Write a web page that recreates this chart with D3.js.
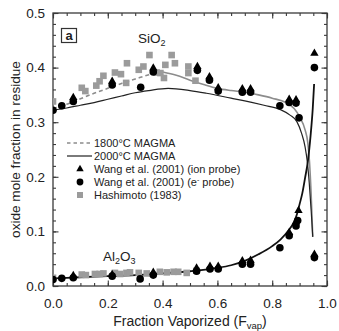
<!DOCTYPE html>
<html><head><meta charset="utf-8">
<script src="https://cdnjs.cloudflare.com/ajax/libs/d3/7.8.5/d3.min.js"></script>
<style>
html,body{margin:0;padding:0;background:#fff;}
svg{display:block;font-family:"Liberation Sans",Arial,sans-serif;}
</style></head>
<body>
<svg id="c" width="339" height="331"></svg>
<script>
// ---- model curves ----
const sio2_1800_f = [0,0.05,0.1,0.15,0.2,0.25,0.3,0.35,0.4,0.45,0.5,0.55,0.6,0.65,0.7,0.75,0.8,0.85,0.88,0.9,0.92,0.93,0.936,0.942,0.948];
const sio2_1800_v = [0.325,0.333,0.343,0.353,0.362,0.371,0.379,0.387,0.392,0.386,0.377,0.369,0.362,0.358,0.355,0.350,0.344,0.336,0.325,0.310,0.286,0.262,0.228,0.17,0.09];
const sio2_2000_f = [0,0.05,0.1,0.15,0.2,0.25,0.3,0.35,0.42,0.5,0.56,0.65,0.7,0.77,0.83,0.865,0.89,0.907,0.92,0.928,0.935,0.942,0.948];
const sio2_2000_v = [0.322,0.326,0.331,0.336,0.342,0.348,0.354,0.358,0.362,0.358,0.353,0.344,0.339,0.331,0.323,0.313,0.301,0.280,0.255,0.228,0.19,0.14,0.09];
const al2o3_f = [0,0.1,0.2,0.3,0.4,0.5,0.6,0.65,0.7,0.75,0.8,0.83,0.86,0.88,0.89,0.9,0.91,0.92,0.93,0.94,0.948,0.953];
const al2o3_v = [0.014,0.016,0.018,0.020,0.023,0.027,0.033,0.038,0.046,0.058,0.073,0.085,0.102,0.118,0.131,0.150,0.170,0.198,0.228,0.275,0.325,0.37];

// ---- measurements ----
// Wang et al. (2001) e- probe (circles)
const wangE_f_sio2 = [0,0.032,0.074,0.216,0.320,0.366,0.527,0.571,0.603,0.691,0.721,0.828,0.862,0.887,0.898,0.954];
const wangE_v_sio2 = [0.322,0.330,0.338,0.368,0.364,0.392,0.395,0.377,0.357,0.355,0.355,0.330,0.336,0.335,0.308,0.400];
const wangE_f_al = [0,0.032,0.074,0.216,0.318,0.366,0.524,0.573,0.603,0.691,0.721,0.828,0.862,0.887,0.893,0.954];
const wangE_v_al = [0.012,0.014,0.015,0.018,0.013,0.020,0.027,0.031,0.031,0.040,0.040,0.070,0.092,0.110,0.120,0.052];
// Wang et al. (2001) ion probe (triangles)
const wangI_f_sio2 = [0.074,0.216,0.366,0.527,0.571,0.603,0.691,0.721,0.862,0.887,0.954];
const wangI_v_sio2 = [0.345,0.375,0.399,0.402,0.383,0.363,0.361,0.361,0.342,0.341,0.426];
const wangI_f_al = [0.074,0.216,0.366,0.524,0.573,0.603,0.691,0.721,0.862,0.887,0.896,0.954];
const wangI_v_al = [0.019,0.021,0.025,0.033,0.036,0.036,0.046,0.047,0.098,0.117,0.138,0.058];
// Hashimoto (1983) (squares)
const hash_f_sio2 = [0,0.105,0.118,0.158,0.170,0.184,0.226,0.248,0.267,0.270,0.313,0.330,0.352,0.378,0.392,0.405,0.410,0.433,0.445,0.494,0.494,0.520];
const hash_v_sio2 = [0.338,0.363,0.357,0.367,0.375,0.385,0.391,0.388,0.372,0.408,0.396,0.402,0.423,0.391,0.390,0.381,0.405,0.423,0.408,0.402,0.390,0.376];
const hash_f_al = [0,0.105,0.12,0.153,0.17,0.184,0.226,0.245,0.268,0.281,0.313,0.342,0.39,0.415,0.44,0.457,0.488,0.524];
const hash_v_al = [0.015,0.021,0.020,0.022,0.022,0.023,0.024,0.022,0.024,0.025,0.024,0.023,0.026,0.025,0.026,0.026,0.024,0.028];

// ---- axes ----
const xTicks = [0,0.2,0.4,0.6,0.8,1.0];
const yTicks = [0,0.1,0.2,0.3,0.4,0.5];
const xMinor = d3.range(0,1.0001,0.05);
const yMinor = d3.range(0,0.5001,0.02);
const xTitle = "Fraction Vaporized (F";
const xTitleSub = "vap";
const yTitle = "oxide mole fraction in residue";
const legendLabels = ["1800°C MAGMA","2000°C MAGMA","Wang et al. (2001) (ion probe)","Wang et al. (2001) (e","Hashimoto (1983)"];

const svg = d3.select("#c");
const L=53,R=327,T=13,B=286;
const x = d3.scaleLinear().domain([0,1]).range([L,R]);
const y = d3.scaleLinear().domain([0,0.5]).range([B,T]);
const axisColor="#3a3a3a", textColor="#222";

function styleAxis(g){
  g.select(".domain").remove();
  g.selectAll("line").attr("stroke",axisColor).attr("stroke-width",1.1);
  g.selectAll("text").attr("fill",textColor).attr("font-size",13.5).attr("font-family","Liberation Sans, Arial, sans-serif");
}
// minor ticks
svg.append("g").attr("transform",`translate(0,${B})`).call(d3.axisBottom(x).tickValues(xMinor).tickSize(-3).tickFormat("")).call(styleAxis);
svg.append("g").attr("transform",`translate(0,${T})`).call(d3.axisTop(x).tickValues(xMinor).tickSize(-3).tickFormat("")).call(styleAxis);
svg.append("g").attr("transform",`translate(${L},0)`).call(d3.axisLeft(y).tickValues(yMinor).tickSize(-3).tickFormat("")).call(styleAxis);
svg.append("g").attr("transform",`translate(${R},0)`).call(d3.axisRight(y).tickValues(yMinor).tickSize(-3).tickFormat("")).call(styleAxis);
// major ticks
svg.append("g").attr("transform",`translate(0,${B})`).call(d3.axisBottom(x).tickValues(xTicks).tickSize(-5.5).tickPadding(12).tickFormat(d3.format(".1f"))).call(styleAxis);
svg.append("g").attr("transform",`translate(0,${T})`).call(d3.axisTop(x).tickValues(xTicks).tickSize(-5.5).tickFormat("")).call(styleAxis);
svg.append("g").attr("transform",`translate(${L},0)`).call(d3.axisLeft(y).tickValues(yTicks).tickSize(-5.5).tickPadding(8).tickFormat(d3.format(".1f"))).call(styleAxis);
svg.append("g").attr("transform",`translate(${R},0)`).call(d3.axisRight(y).tickValues(yTicks).tickSize(-5.5).tickFormat("")).call(styleAxis);
// frame
svg.append("rect").attr("x",L).attr("y",T).attr("width",R-L).attr("height",B-T)
  .attr("fill","none").attr("stroke",axisColor).attr("stroke-width",1.3);

// titles
const xt = svg.append("text").attr("x",(L+R)/2).attr("y",326).attr("text-anchor","middle")
  .attr("font-size",14).attr("fill",textColor);
xt.append("tspan").text(xTitle);
xt.append("tspan").attr("font-size",9.5).attr("dy",3).text(xTitleSub);
xt.append("tspan").attr("dy",-3).text(")");
svg.append("text").attr("transform",`translate(20,${(T+B)/2}) rotate(-90)`).attr("text-anchor","middle")
  .attr("font-size",13.6).attr("fill",textColor).text(yTitle);

// clip
svg.append("clipPath").attr("id","clip").append("rect").attr("x",L).attr("y",T).attr("width",R-L).attr("height",B-T);
const plot = svg.append("g").attr("clip-path","url(#clip)");

const line = d3.line().x(d=>x(d[0])).y(d=>y(d[1])).curve(d3.curveMonotoneX);
const zip = (a,b)=>a.map((v,i)=>[v,b[i]]);

const s1800 = zip(sio2_1800_f,sio2_1800_v);
const cutIdx = sio2_1800_f.indexOf(0.4);
plot.append("path").attr("d",line(s1800.slice(0,cutIdx+1))).attr("fill","none").attr("stroke","#8c8c8c").attr("stroke-width",1.6).attr("stroke-dasharray","4,3");
plot.append("path").attr("d",line(s1800.slice(cutIdx))).attr("fill","none").attr("stroke","#8c8c8c").attr("stroke-width",1.6);
plot.append("path").attr("d",line(zip(sio2_2000_f,sio2_2000_v))).attr("fill","none").attr("stroke","#222").attr("stroke-width",1.2);
plot.append("path").attr("d",line(zip(al2o3_f,al2o3_v))).attr("fill","none").attr("stroke","#111").attr("stroke-width",1.8);

// markers
const sqColor="#9b9b9b";
function squares(f,v){
  plot.selectAll(null).data(zip(f,v)).enter().append("rect")
    .attr("x",d=>x(d[0])-3.3).attr("y",d=>y(d[1])-3.3).attr("width",6.6).attr("height",6.6).attr("fill",sqColor);
}
function circles(f,v){
  plot.selectAll(null).data(zip(f,v)).enter().append("circle")
    .attr("cx",d=>x(d[0])).attr("cy",d=>y(d[1])).attr("r",3.8).attr("fill","#000");
}
const tri = d3.symbol().type(d3.symbolTriangle).size(30);
function triangles(f,v){
  plot.selectAll(null).data(zip(f,v)).enter().append("path")
    .attr("d",tri).attr("transform",d=>`translate(${x(d[0])},${y(d[1])})`).attr("fill","#000");
}
squares(hash_f_sio2,hash_v_sio2);
squares(hash_f_al,hash_v_al);
circles(wangE_f_sio2,wangE_v_sio2);
circles(wangE_f_al,wangE_v_al);
triangles(wangI_f_sio2,wangI_v_sio2);
triangles(wangI_f_al,wangI_v_al);

// panel label
svg.append("rect").attr("x",61.5).attr("y",28.5).attr("width",15).attr("height",14).attr("fill","#fff").attr("stroke","#333").attr("stroke-width",1.2);
svg.append("text").attr("x",69).attr("y",39.5).attr("text-anchor","middle").attr("font-size",13).attr("font-weight","bold").attr("fill","#222").text("a");

// species labels
const si = svg.append("text").attr("x",138).attr("y",42.5).attr("font-size",13.5).attr("fill",textColor);
si.append("tspan").text("SiO");
si.append("tspan").attr("font-size",9).attr("dy",3).text("2");
const al = svg.append("text").attr("x",103).attr("y",260.5).attr("font-size",13.5).attr("fill",textColor);
al.append("tspan").text("Al");
al.append("tspan").attr("font-size",9).attr("dy",3).text("2");
al.append("tspan").attr("dy",-3).text("O");
al.append("tspan").attr("font-size",9).attr("dy",3).text("3");

// legend
const rows=[143,156,169,182,195];
const lg = svg.append("g");
lg.append("line").attr("x1",67).attr("x2",90).attr("y1",rows[0]).attr("y2",rows[0]).attr("stroke","#8c8c8c").attr("stroke-width",1.5).attr("stroke-dasharray","3.5,3");
lg.append("line").attr("x1",67).attr("x2",92).attr("y1",rows[1]).attr("y2",rows[1]).attr("stroke","#222").attr("stroke-width",1.2);
lg.append("path").attr("d",d3.symbol().type(d3.symbolTriangle).size(24)).attr("transform",`translate(80,${rows[2]})`).attr("fill","#000");
lg.append("circle").attr("cx",80).attr("cy",rows[3]).attr("r",3.4).attr("fill","#000");
lg.append("rect").attr("x",77).attr("y",rows[4]-3).attr("width",6).attr("height",6).attr("fill",sqColor);
legendLabels.forEach((t,i)=>{
  const tx = lg.append("text").attr("x",94).attr("y",rows[i]+4).attr("font-size",11).attr("fill",textColor);
  tx.append("tspan").text(t);
  if(i===3){
    tx.append("tspan").attr("font-size",7).attr("dy",-4).text("-");
    tx.append("tspan").attr("dy",4).text(" probe)");
  }
});
</script>
</body></html>
